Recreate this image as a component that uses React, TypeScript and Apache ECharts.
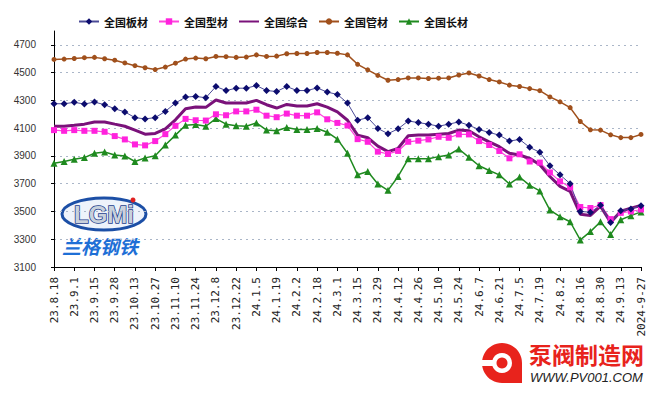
import React, { useEffect, useRef } from "react";
import * as echarts from "echarts";

const dates = [
  "23.8.18", "23.8.25", "23.9.1", "23.9.8", "23.9.15", "23.9.22", "23.9.28", "23.10.6",
  "23.10.13", "23.10.20", "23.10.27", "23.11.3", "23.11.10", "23.11.17", "23.11.24", "23.12.1",
  "23.12.8", "23.12.15", "23.12.22", "23.12.29", "24.1.5", "24.1.12", "24.1.19", "24.1.26",
  "24.2.2", "24.2.9", "24.2.18", "24.2.23", "24.3.1", "24.3.8", "24.3.15", "24.3.22",
  "24.3.29", "24.4.5", "24.4.12", "24.4.19", "24.4.26", "24.5.3", "24.5.10", "24.5.17",
  "24.5.24", "24.5.31", "24.6.7", "24.6.14", "24.6.21", "24.6.28", "24.7.5", "24.7.12",
  "24.7.19", "24.7.26", "24.8.2", "24.8.9", "24.8.16", "24.8.23", "24.8.30", "24.9.6",
  "24.9.13", "24.9.20", "2024-9-27",
];

const plate = [
  4276, 4276, 4286, 4274, 4288, 4269, 4240, 4217, 4176, 4167, 4176, 4221, 4281, 4324, 4329, 4319,
  4400, 4371, 4388, 4388, 4407, 4371, 4364, 4400, 4371, 4371, 4390, 4360, 4343, 4281, 4157, 4176,
  4098, 4060, 4095, 4152, 4140, 4129, 4114, 4129, 4145, 4121, 4090, 4069, 4050, 4007, 4019, 3962,
  3926, 3829, 3764, 3700, 3500, 3495, 3544, 3420, 3505, 3518, 3542,
];

const section = [
  4086, 4081, 4086, 4081, 4081, 4074, 4043, 4019, 3983, 3976, 4007, 4057, 4117, 4167, 4157, 4155,
  4200, 4193, 4221, 4221, 4233, 4190, 4179, 4205, 4190, 4190, 4214, 4164, 4138, 4119, 4021, 4002,
  3931, 3914, 3936, 4002, 4010, 4019, 4038, 4031, 4055, 4055, 4007, 3979, 3936, 3883, 3912, 3860,
  3852, 3781, 3717, 3674, 3532, 3525, 3546, 3445, 3490, 3500, 3514,
];

const composite = [
  4114, 4114, 4121, 4129, 4145, 4145, 4129, 4114, 4086, 4057, 4062, 4095, 4160, 4240, 4252, 4250,
  4303, 4281, 4281, 4281, 4300, 4269, 4245, 4271, 4260, 4260, 4276, 4252, 4217, 4157, 4050, 4031,
  3971, 3931, 3955, 4045, 4050, 4050, 4057, 4062, 4086, 4081, 4038, 4002, 3967, 3919, 3907, 3883,
  3836, 3752, 3681, 3645, 3480, 3471, 3538, 3420, 3502, 3524, 3543,
];

const pipe = [
  4595, 4598, 4602, 4608, 4610, 4600, 4590, 4570, 4550, 4535, 4522, 4540, 4568, 4598, 4605, 4600,
  4617, 4615, 4610, 4612, 4628, 4617, 4619, 4636, 4638, 4638, 4645, 4645, 4640, 4628, 4560, 4520,
  4480, 4445, 4450, 4462, 4462, 4458, 4460, 4462, 4483, 4498, 4476, 4450, 4433, 4410, 4400, 4385,
  4370, 4325, 4290, 4248, 4148, 4088, 4086, 4052, 4032, 4032, 4055,
];

const longSteel = [
  3848, 3860, 3876, 3888, 3919, 3929, 3907, 3900, 3860, 3886, 3902, 3979, 4050, 4121, 4126, 4114,
  4169, 4129, 4117, 4114, 4138, 4086, 4081, 4105, 4090, 4090, 4098, 4071, 4021, 3919, 3764, 3788,
  3698, 3652, 3752, 3879, 3879, 3879, 3895, 3907, 3950, 3890, 3829, 3795, 3764, 3698, 3748, 3688,
  3648, 3510, 3462, 3426, 3295, 3355, 3426, 3335, 3440, 3470, 3497,
];

const names = ["全国板材", "全国型材", "全国综合", "全国管材", "全国长材"];

export default function App() {
  const ref = useRef<HTMLDivElement>(null);

  useEffect(() => {
    document.body.style.margin = "0";
    if (!ref.current) return;
    const chart = echarts.init(ref.current, null, { renderer: "svg" });

    const mkLine = (
      name: string,
      data: number[],
      color: string,
      lineColor: string,
      symbol: string,
      symbolSize: number,
      width: number
    ) => ({
      name,
      type: "line",
      data,
      symbol,
      symbolSize,
      showSymbol: symbol !== "none",
      showAllSymbol: true,
      itemStyle: { color },
      lineStyle: { color: lineColor, width },
      z: 3,
    });

    const option: any = {
      animation: false,
      backgroundColor: "#ffffff",
      grid: { left: 54, right: 23, top: 31, bottom: 127, containLabel: false },
      legend: {
        left: 78,
        top: 16,
        padding: 0,
        itemWidth: 20,
        itemHeight: 8,
        itemGap: 10,
        data: [
          names[0],
          names[1],
          { name: names[2], itemStyle: { color: "rgba(0,0,0,0)", opacity: 0 } },
          names[3],
          names[4],
        ],
        textStyle: {
          fontFamily: "Noto Sans CJK SC",
          fontWeight: "bold",
          fontSize: 11,
          color: "#111",
        },
      },
      xAxis: {
        type: "category",
        data: dates,
        boundaryGap: false,
        axisLine: { show: true, lineStyle: { color: "#000", width: 1 } },
        axisTick: { show: true, interval: 1, length: 4, lineStyle: { color: "#000" } },
        axisLabel: {
          interval: 1,
          rotate: 90,
          margin: 10,
          fontSize: 11,
          fontFamily: "DejaVu Sans Mono, Liberation Mono, monospace",
          color: "#222",
        },
        splitLine: { show: false },
      },
      yAxis: {
        type: "value",
        min: 3100,
        max: 4800,
        interval: 200,
        axisLine: { show: true, lineStyle: { color: "#000", width: 1 } },
        axisTick: { show: true, length: 3, lineStyle: { color: "#000" } },
        axisLabel: {
          showMaxLabel: false,
          margin: 18,
          fontSize: 10,
          formatter: (v: number) => String(v),
          fontFamily: "Liberation Sans Narrow, Arial Narrow, Liberation Sans, sans-serif",
          color: "#333",
        },
        splitLine: {
          show: true,
          showMinLine: false,
          showMaxLine: false,
          lineStyle: { type: [2, 4], color: "#aab6c8", width: 1 },
        },
      },
      series: [
        mkLine(names[3], pipe, "#a0501c", "#a0501c", "circle", 5, 1.5),
        mkLine(names[4], longSteel, "#1f8a1f", "#1f8a1f", "triangle", 7, 1.5),
        mkLine(names[1], section, "#ff22dd", "#ff44dd", "rect", 6, 1.2),
        mkLine(names[2], composite, "#7a127a", "#7a127a", "none", 0, 3),
        mkLine(names[0], plate, "#0c0c6e", "#4a4a96", "diamond", 7, 1),
      ],
      graphic: [
        {
          type: "group",
          silent: true,
          children: [
            {
              type: "ellipse",
              shape: { cx: 104, cy: 214, rx: 42, ry: 16 },
              style: { fill: "#eef3fb", stroke: "#1c4fa6", lineWidth: 3 },
            },
            {
              type: "text",
              x: 104,
              y: 214,
              style: {
                text: "LGMi",
                fontSize: 24,
                fontWeight: "bold",
                fontFamily: "Liberation Sans, sans-serif",
                fill: "#c9d1dc",
                stroke: "#1b3c8c",
                lineWidth: 1.5,
                align: "center",
                verticalAlign: "middle",
              },
            },
            {
              type: "circle",
              shape: { cx: 133, cy: 200, r: 2.5 },
              style: { fill: "#e02020" },
            },
            {
              type: "text",
              x: 62,
              y: 236,
              style: {
                text: "兰格钢铁",
                fontSize: 19,
                fontWeight: "bold",
                fontStyle: "italic",
                fontFamily: "Noto Sans CJK SC",
                fill: "#1e6fd6",
              },
            },
          ],
        },
        {
          type: "group",
          silent: true,
          children: [
            {
              type: "circle",
              shape: { cx: 502, cy: 363, r: 20 },
              style: { fill: "#e8231c" },
            },
            {
              type: "rect",
              shape: { x: 502, y: 363, width: 20, height: 20 },
              style: { fill: "#e8231c" },
            },
            {
              type: "rect",
              shape: { x: 480, y: 360, width: 16, height: 6 },
              style: { fill: "#ffffff" },
            },
            {
              type: "circle",
              shape: { cx: 502, cy: 363, r: 10 },
              style: { fill: "#ffffff" },
            },
            {
              type: "circle",
              shape: { cx: 502, cy: 363, r: 5.5 },
              style: { fill: "#e8231c" },
            },
            {
              type: "text",
              x: 529,
              y: 342,
              style: {
                text: "泵阀制造网",
                fontSize: 23,
                fontWeight: "bold",
                fontFamily: "Noto Sans CJK SC",
                fill: "#e8231c",
              },
            },
            {
              type: "text",
              x: 530,
              y: 371,
              style: {
                text: "WWW.PV001.COM",
                fontSize: 13,
                fontStyle: "italic",
                fontFamily: "Liberation Sans, sans-serif",
                fill: "#222",
              },
            },
          ],
        },
      ],
    };

    chart.setOption(option);
    return () => chart.dispose();
  }, []);

  return <div ref={ref} style={{ width: 664, height: 394 }} />;
}
